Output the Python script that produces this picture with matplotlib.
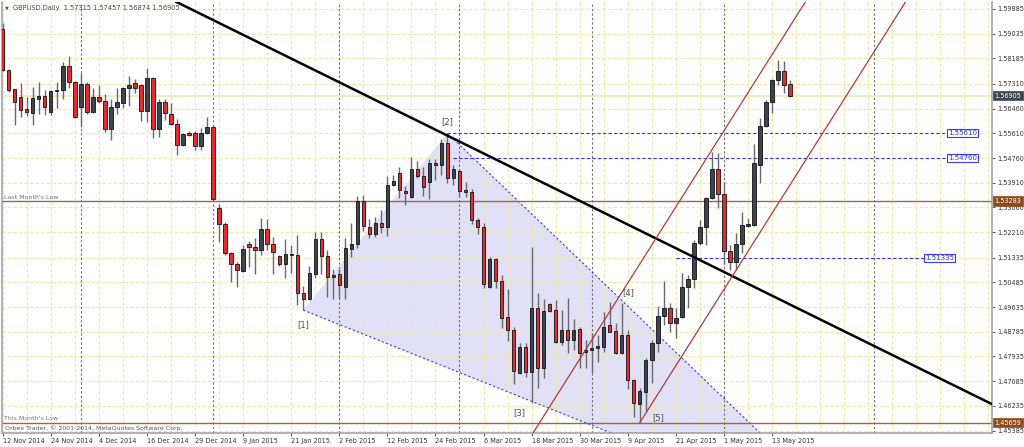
import numpy as np
import pandas as pd
import matplotlib
matplotlib.use("Agg")
import matplotlib.pyplot as plt
from matplotlib.patches import Polygon

# ---------------- data ----------------
symbol = "GBPUSD.Daily"
holidays = ["2014-12-25", "2015-01-01"]

open_ = [1.5920,1.5779,1.5713,1.5686,1.5645,1.5631,1.5679,1.5689,1.5634,1.5706,
         1.5710,1.5792,1.5737,1.5651,1.5731,1.5634,1.5686,1.5672,1.5576,1.5651,
         1.5665,1.5717,1.5734,1.5727,1.5638,1.5751,1.5576,1.5669,1.5627,1.5593,
         1.5521,1.5562,1.5562,1.5517,1.5562,1.5583,1.5304,1.5249,1.5149,1.5112,
         1.5088,1.5180,1.5170,1.5160,1.5232,1.5180,1.5139,1.5112,1.5143,1.5143,
         1.5012,1.4991,1.5077,1.5198,1.5139,1.5067,1.5077,1.5032,1.5163,1.5180,
         1.5328,1.5239,1.5215,1.5253,1.5239,1.5383,1.5424,1.5363,1.5342,1.5438,
         1.5414,1.5394,1.5459,1.5452,1.5528,1.5407,1.5431,1.5366,1.5359,1.5263,
         1.5239,1.5032,1.5129,1.5053,1.4929,1.4885,1.4737,1.4826,1.4740,1.4960,
         1.4754,1.4974,1.4953,1.4843,1.4885,1.4850,1.4888,1.4809,1.4816,1.4823,
         1.4826,1.4902,1.4881,1.4805,1.4867,1.4713,1.4630,1.4671,1.4781,1.4840,
         1.4933,1.4960,1.4909,1.4929,1.5032,1.5060,1.5184,1.5239,1.5339,1.5438,
         1.5352,1.5156,1.5118,1.5180,1.5242,1.5246,1.5452,1.5586,1.5669,1.5744,
         1.5775,1.57315]
high = [1.5941,1.5782,1.5715,1.5734,1.5686,1.5720,1.5737,1.5710,1.5710,1.5737,
        1.5806,1.5827,1.5740,1.5768,1.5737,1.5717,1.5727,1.5696,1.5679,1.5717,
        1.5720,1.5758,1.5748,1.5730,1.5786,1.5754,1.5679,1.5679,1.5665,1.5610,
        1.5562,1.5569,1.5569,1.5579,1.5617,1.5586,1.5318,1.5256,1.5153,1.5118,
        1.5177,1.5191,1.5201,1.5270,1.5266,1.5204,1.5143,1.5198,1.5177,1.5211,
        1.5036,1.5105,1.5222,1.5222,1.5160,1.5094,1.5094,1.5201,1.5253,1.5345,
        1.5349,1.5266,1.5273,1.5297,1.5414,1.5418,1.5445,1.5380,1.5480,1.5466,
        1.5445,1.5473,1.5473,1.5541,1.5561,1.5452,1.5438,1.5394,1.5369,1.5270,
        1.5253,1.5136,1.5132,1.5074,1.5026,1.4895,1.4840,1.4840,1.5170,1.5012,
        1.4991,1.4977,1.4988,1.4953,1.4995,1.4922,1.4895,1.4850,1.4874,1.4867,
        1.4946,1.4981,1.4909,1.4977,1.4885,1.4716,1.4685,1.4788,1.4850,1.4967,
        1.5053,1.4977,1.4960,1.5081,1.5074,1.5194,1.5263,1.5342,1.5497,1.5493,
        1.5394,1.5177,1.5218,1.5290,1.5270,1.5524,1.5614,1.5676,1.5748,1.5813,
        1.5810,1.57457]
low = [1.5775,1.5703,1.5590,1.5617,1.5621,1.5590,1.5627,1.5624,1.5624,1.5648,
       1.5679,1.5717,1.5614,1.5583,1.5627,1.5631,1.5665,1.5566,1.5538,1.5627,
       1.5648,1.5655,1.5700,1.5603,1.5600,1.5545,1.5548,1.5607,1.5590,1.5486,
       1.5517,1.5552,1.5504,1.5504,1.5559,1.5328,1.5187,1.5143,1.5050,1.5032,
       1.5085,1.5101,1.5077,1.5143,1.5160,1.5077,1.5105,1.5063,1.5081,1.4971,
       1.4953,1.4988,1.5063,1.5077,1.4998,1.4991,1.4995,1.4991,1.5136,1.5167,
       1.5225,1.5201,1.5204,1.5218,1.5208,1.5380,1.5339,1.5314,1.5339,1.5407,
       1.5345,1.5335,1.5400,1.5418,1.5390,1.5383,1.5345,1.5342,1.5249,1.5215,
       1.5029,1.5030,1.5029,1.4891,1.4847,1.4699,1.4735,1.4723,1.4634,1.4685,
       1.4720,1.4946,1.4840,1.4833,1.4805,1.4816,1.4754,1.4754,1.4737,1.4775,
       1.4809,1.4876,1.4803,1.4803,1.4682,1.4585,1.45659,1.4603,1.4702,1.4809,
       1.4902,1.4878,1.4857,1.4926,1.4960,1.5029,1.5177,1.5177,1.5335,1.5304,
       1.5112,1.5091,1.5091,1.5149,1.5239,1.5242,1.5390,1.5583,1.5631,1.5727,
       1.5700,1.56874]
close = [1.5779,1.5710,1.5669,1.5641,1.5634,1.5682,1.5689,1.5651,1.5706,1.5710,
         1.5792,1.5737,1.5617,1.5731,1.5634,1.5686,1.5672,1.5576,1.5651,1.5669,
         1.5717,1.5727,1.5717,1.5638,1.5751,1.5576,1.5669,1.5631,1.5593,1.5521,
         1.5559,1.5555,1.5517,1.5562,1.5583,1.5335,1.5249,1.5149,1.5112,1.5091,
         1.5163,1.5170,1.5160,1.5232,1.5180,1.5153,1.5112,1.5146,1.5146,1.5012,
         1.4991,1.5081,1.5198,1.5139,1.5067,1.5074,1.5039,1.5167,1.5180,1.5328,
         1.5242,1.5215,1.5253,1.5239,1.5383,1.5397,1.5366,1.5356,1.5438,1.5414,
         1.5376,1.5459,1.5452,1.5528,1.5407,1.5438,1.5363,1.5359,1.5263,1.5239,
         1.5043,1.5129,1.5053,1.4926,1.4885,1.4744,1.4826,1.4740,1.4960,1.4754,
         1.4950,1.4950,1.4843,1.4885,1.4850,1.4885,1.4805,1.4816,1.4823,1.4830,
         1.4895,1.4878,1.4805,1.4867,1.4713,1.4634,1.4675,1.4781,1.4840,1.4933,
         1.4960,1.4909,1.4926,1.5032,1.5060,1.5184,1.5239,1.5339,1.5438,1.5352,
         1.5156,1.5118,1.5180,1.5246,1.5249,1.5459,1.5586,1.5669,1.5744,1.5775,
         1.5727,1.56905]

ytick_values = [1.59885,1.59035,1.58185,1.57310,1.56460,1.55610,1.54760,1.53910,
                1.53060,1.52210,1.51335,1.50485,1.49635,1.48785,1.47935,1.47085,
                1.46235,1.45385]

# drawn objects (anchor bar index, price)
trend_bars = [74, 121]
trend_prices = [1.5553, 1.5074]
channel_bars = [106, 126]
channel_lower = [1.45659, 1.52203]
channel_upper = [1.51116, 1.57660]
triangle_bars = [50, 74, 143.7]
triangle_prices = [1.4953, 1.5561, 1.4180]
hline_levels = [1.55610, 1.54760, 1.51335]
hline_start = [74, 75, 112]
hline_label_bar = [157.3, 157.3, 153.5]
month_levels = [1.53283, 1.45659]
month_names = ["Last Month's Low", "This Month's Low"]
wave_names = ["[1]", "[2]", "[3]", "[4]", "[5]"]
wave_bars = [50, 74, 86, 104.1, 109.1]
wave_prices = [1.4902, 1.5601, 1.4600, 1.5013, 1.4583]
future_separator = 145

# ---------------- build ----------------
dates = pd.bdate_range("2014-11-12", "2015-05-18")
dates = dates[~dates.isin(pd.to_datetime(holidays))][:len(open_)]
o = np.array(open_); h = np.array(high); l = np.array(low); c = np.array(close)
idx = np.arange(len(o))

W, H = 1024, 447
fig = plt.figure(figsize=(W / 100, H / 100), dpi=100)
fig.patch.set_facecolor("white")
ax_left, ax_right, ax_top, ax_bot = 2, 992, 2, 433
ax = fig.add_axes([ax_left / W, 1 - ax_bot / H, (ax_right - ax_left) / W, (ax_bot - ax_top) / H])
ax.set_xlim(-0.12, 164.6)
ax.set_ylim(1.45304, 1.60125)
ax.set_facecolor("white")

grid_col = "#f1e7a8"
for yv in ytick_values:
    ax.axhline(yv, color=grid_col, lw=0.8, ls=(0, (3, 2)), zorder=0.5)
for xv in np.arange(0, 166, 4):
    ax.axvline(xv, color=grid_col, lw=0.8, ls=(0, (3, 2)), zorder=0.5)

# month separators
month_starts = [i for i in range(1, len(dates)) if dates[i].month != dates[i - 1].month]
for xv in month_starts + [future_separator]:
    ax.axvline(xv, color="#6f6f6f", lw=0.8, ls=(0, (2, 2)), zorder=0.6)

# triangle
tri = Polygon(list(zip(triangle_bars, triangle_prices)), closed=True,
              facecolor="#e0e0f7", edgecolor="none", zorder=0.3)
ax.add_patch(tri)
for k in (0, 1):
    ax.plot([triangle_bars[k], triangle_bars[2]], [triangle_prices[k], triangle_prices[2]],
            color="#3b3bff", lw=0.8, ls=(0, (2, 2)), zorder=1)

# bid line
ax.axhline(c[-1], color="#f3e8b8", lw=1.2, zorder=0.8)

# month low lines
for lv, nm in zip(month_levels, month_names):
    ax.axhline(lv, color="#a5643a", lw=1.0, zorder=1.2)
    ax.annotate(nm, xy=(0, lv), xycoords=("axes fraction", "data"), xytext=(1.8, 1.0),
                textcoords="offset points", fontsize=4.5, color="#707070", va="bottom", ha="left")

# horizontal blue levels
for lv, sb, lb in zip(hline_levels, hline_start, hline_label_bar):
    ax.plot([sb, lb], [lv, lv], color="#3232ff", lw=0.8, ls=(0, (3, 2)), zorder=1.3)
    ax.text(lb, lv, f"{lv:.5f}", fontsize=5, color="#2a2aff", va="center", ha="left", zorder=6,
            bbox=dict(boxstyle="square,pad=0.15", fc="white", ec="#3a3aff", lw=0.8))

# candles
up = c >= o
ax.vlines(idx, l, h, color="#6a6a6a", lw=1.0, zorder=2.5)
ax.bar(idx[up], c[up] - o[up], bottom=o[up], width=0.56, color="#3a4550",
       edgecolor="#111111", lw=0.6, zorder=3)
ax.bar(idx[~up], c[~up] - o[~up], bottom=o[~up], width=0.56, color="#f2252b",
       edgecolor="#111111", lw=0.6, zorder=3)

# trend line
ax.axline((trend_bars[0], trend_prices[0]), (trend_bars[1], trend_prices[1]),
          color="black", lw=1.8, zorder=4)

# channel
ax.axline((channel_bars[0], channel_upper[0]), (channel_bars[1], channel_upper[1]),
          color="#b23a3a", lw=0.9, zorder=4)
slope = (channel_lower[1] - channel_lower[0]) / (channel_bars[1] - channel_bars[0])
xe = 170
ax.plot([channel_bars[0], xe], [channel_lower[0], channel_lower[0] + slope * (xe - channel_bars[0])],
        color="#b23a3a", lw=0.9, zorder=4)

# wave labels
for nm, xb, yp in zip(wave_names, wave_bars, wave_prices):
    ax.text(xb, yp, nm, fontsize=6, color="#4d4d4d", ha="center", va="center", zorder=5)

# axes styling
ax.spines["top"].set_visible(False)
for s in ("right", "bottom", "left"):
    ax.spines[s].set_color("#9c9c9c")
    ax.spines[s].set_linewidth(1.1)

ax.yaxis.tick_right()
ax.set_yticks(ytick_values)
ax.set_yticklabels([f"{v:.5f}" for v in ytick_values])
ax.tick_params(axis="y", which="both", length=2.2, width=0.7, color="#555555",
               labelsize=4.7, labelcolor="#333333", pad=1.5)

xt = list(range(0, len(dates), 8))
ax.set_xticks(xt)
ax.set_xticklabels([f"{dates[i].day} {dates[i].strftime('%b %Y')}" for i in xt])
for t in ax.get_xticklabels():
    t.set_ha("left")
ax.tick_params(axis="x", length=2.5, width=0.7, color="#555555", labelsize=4.7,
               labelcolor="#333333", pad=1.2)

# right price tags
def tag(val, fc):
    ax.annotate(f"{val:.5f}", xy=(1.0, val), xycoords=("axes fraction", "data"),
                xytext=(1.6, 0), textcoords="offset points", fontsize=4.7, color="white",
                va="center", ha="left", annotation_clip=False, zorder=10,
                bbox=dict(boxstyle="square,pad=0.25", fc=fc, ec=fc, lw=0.5))

tag(c[-1], "#3d4752")
for lv in month_levels:
    tag(lv, "#8e4a1e")

# header texts
fig.text(5 / W, 1 - 8 / H, "\u25BC", fontsize=3.6, color="#555555", va="center", ha="left")
fig.text(13 / W, 1 - 8 / H,
         f"{symbol}  {o[-1]:.5f} {h[-1]:.5f} {l[-1]:.5f} {c[-1]:.5f}",
         fontsize=4.8, color="#4a4a4a", va="center", ha="left")
fig.text(5 / W, 1 - 428 / H, "Orbex Trader, \u00a9 2001-2014, MetaQuotes Software Corp.",
         fontsize=4.5, color="#555555", va="center", ha="left")

fig.savefig("out.png", dpi=100, facecolor="white")
